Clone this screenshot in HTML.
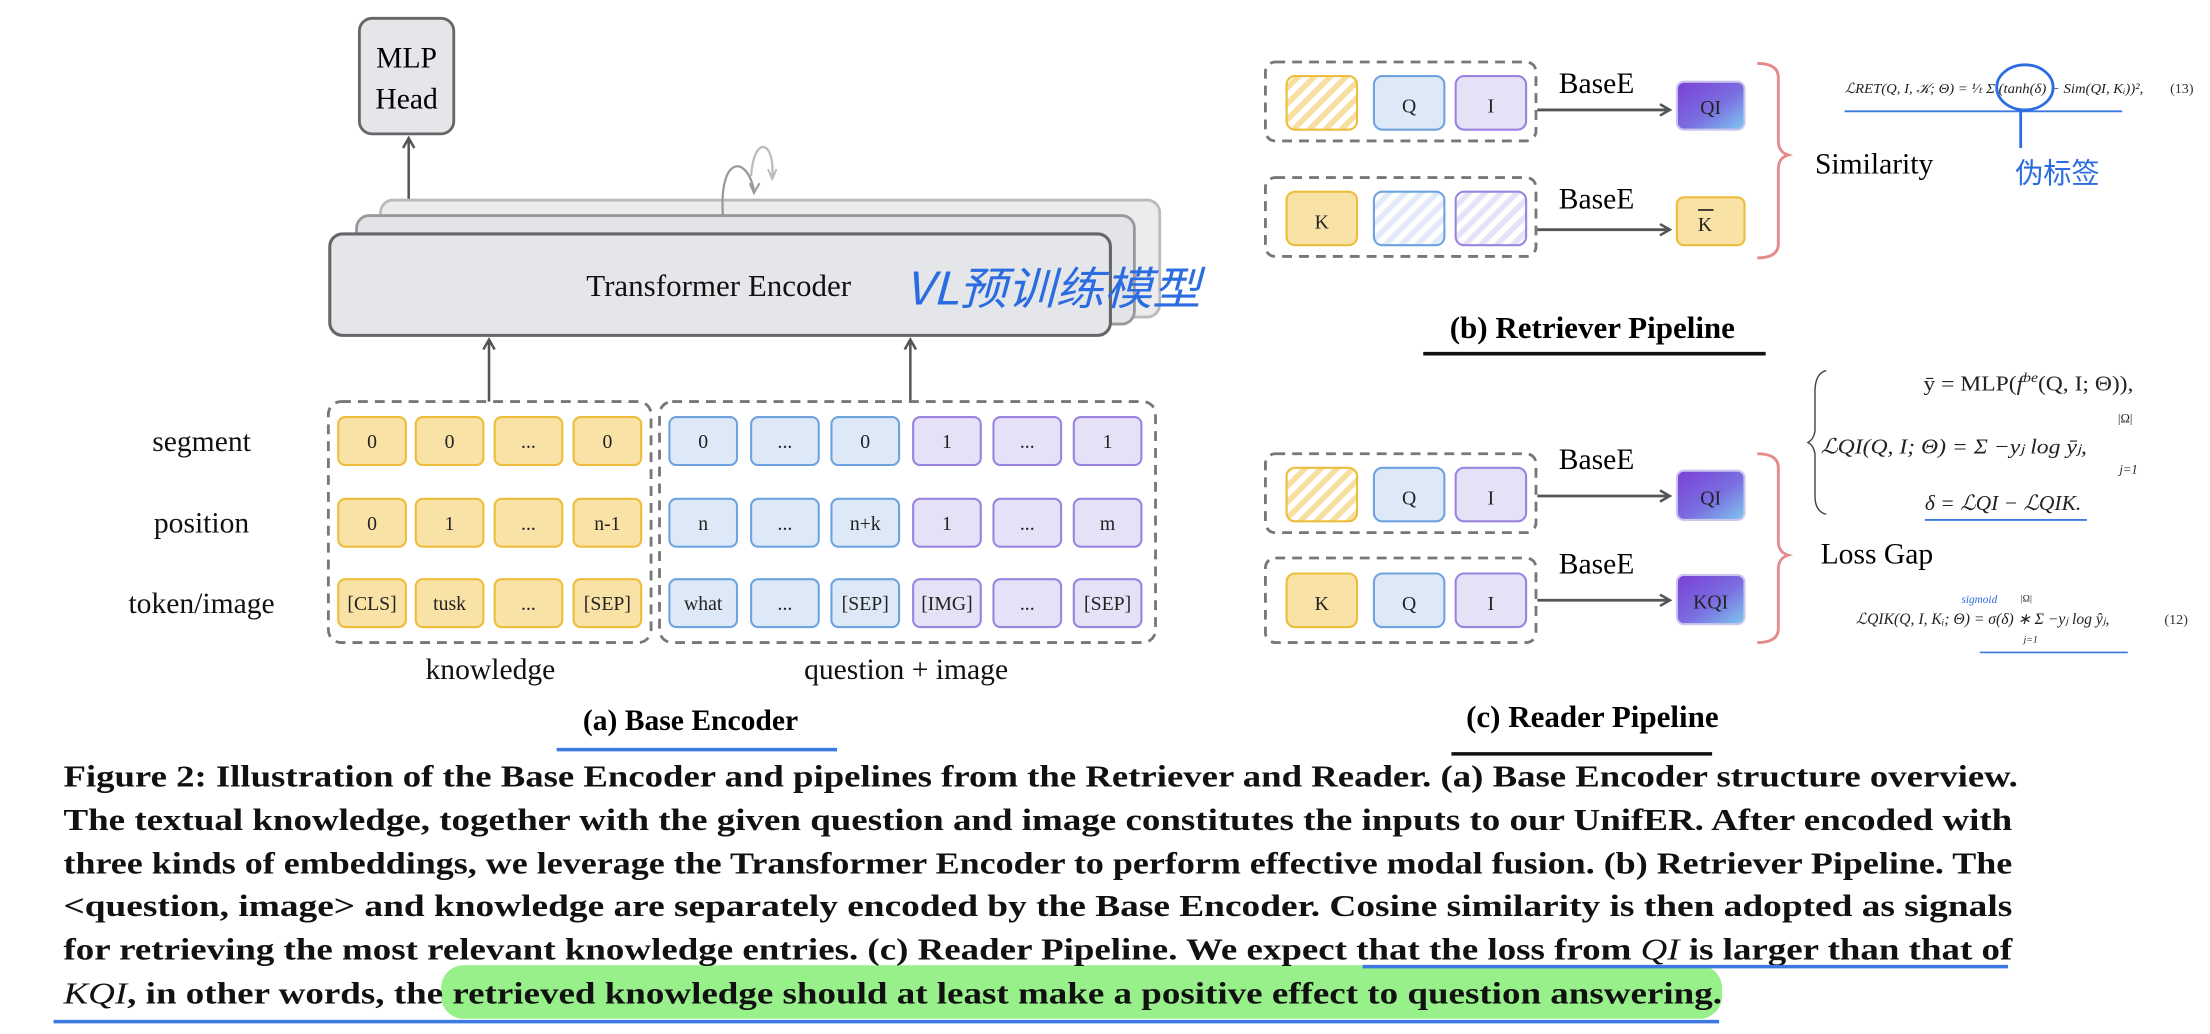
<!DOCTYPE html>
<html><head><meta charset="utf-8"><style>
html,body{margin:0;padding:0;background:#fff;}
svg{display:block;}
</style></head><body>
<svg width="2210" height="1034" viewBox="0 0 1568.3 733.8" xmlns="http://www.w3.org/2000/svg" font-family="Liberation Serif, serif">
<defs>
<pattern id="hy" width="8" height="8" patternUnits="userSpaceOnUse" patternTransform="rotate(45)"><rect width="8" height="8" fill="#fff"/><rect width="4" height="8" fill="#f7dfa0"/></pattern>
<pattern id="hb" width="8" height="8" patternUnits="userSpaceOnUse" patternTransform="rotate(45)"><rect width="8" height="8" fill="#fff"/><rect width="4" height="8" fill="#e2ecf8"/></pattern>
<pattern id="hp" width="8" height="8" patternUnits="userSpaceOnUse" patternTransform="rotate(45)"><rect width="8" height="8" fill="#fff"/><rect width="4" height="8" fill="#e6e3f7"/></pattern>
<linearGradient id="g" x1="0" y1="0" x2="1" y2="1"><stop offset="0" stop-color="#7b3fd6"/><stop offset="0.55" stop-color="#7a6ee0"/><stop offset="1" stop-color="#7ec8f0"/></linearGradient>
<marker id="ar" markerWidth="10" markerHeight="10" refX="8" refY="5" orient="auto" markerUnits="userSpaceOnUse"><path d="M1,1 L8,5 L1,9" fill="none" stroke="#555" stroke-width="1.8"/></marker>
</defs>
<style>
.y{fill:#f8e2a6;stroke:#edbd3c;stroke-width:1.5}
.b{fill:#dde9f7;stroke:#6fa3e0;stroke-width:1.5}
.p{fill:#e5e2f7;stroke:#9a84e0;stroke-width:1.5}
.d{fill:none;stroke:#777;stroke-width:2;stroke-dasharray:7,5}
.ct{font-size:14px;text-anchor:middle;fill:#222}
.lb{font-size:21px;fill:#111}
.cap{font-size:22px;font-weight:bold;fill:#111}
.f{fill:#222;font-style:italic}
</style>

<!-- (a) -->
<rect x="255" y="13" width="67" height="82" rx="9" fill="#e5e6ea" stroke="#666" stroke-width="2"/>
<text x="288.5" y="48" font-size="21" text-anchor="middle">MLP</text>
<text x="288.5" y="77" font-size="21" text-anchor="middle">Head</text>
<line x1="290" y1="142" x2="290" y2="98" stroke="#555" stroke-width="1.8" marker-end="url(#ar)"/>
<rect x="270" y="142" width="553" height="83" rx="9" fill="#ececee" stroke="#bbb" stroke-width="2"/>
<rect x="253" y="153" width="552" height="77" rx="9" fill="#e3e4e8" stroke="#999" stroke-width="2"/>
<rect x="234" y="166" width="554" height="72" rx="9" fill="#e5e6ea" stroke="#666" stroke-width="2.2"/>
<path d="M513,153 C510,110 530,110 535,135" fill="none" stroke="#999" stroke-width="1.6"/>
<path d="M532,130 L535,137 L539,130" fill="none" stroke="#999" stroke-width="1.4"/>
<path d="M533,125 C535,95 550,100 548,125" fill="none" stroke="#bbb" stroke-width="1.6"/>
<path d="M545,120 L548,127 L551,120" fill="none" stroke="#bbb" stroke-width="1.4"/>
<text x="510" y="210" font-size="22" text-anchor="middle" fill="#111">Transformer Encoder</text>
<text x="642" y="216" font-size="32" fill="#2b6de0" font-family="WenQuanYi Zen Hei, Noto Sans CJK SC, sans-serif" font-style="italic" textLength="210" lengthAdjust="spacingAndGlyphs">VL预训练模型</text>
<line x1="347" y1="285" x2="347" y2="241" stroke="#555" stroke-width="1.8" marker-end="url(#ar)"/>
<line x1="646" y1="285" x2="646" y2="241" stroke="#555" stroke-width="1.8" marker-end="url(#ar)"/>
<text class="lb" x="143" y="320" text-anchor="middle">segment</text>
<text class="lb" x="143" y="378" text-anchor="middle">position</text>
<text class="lb" x="143" y="435" text-anchor="middle">token/image</text>
<rect class="d" x="233" y="285" width="229" height="171" rx="9"/>
<rect class="d" x="468" y="285" width="352" height="171" rx="9"/>
<rect class="y" x="240" y="296" width="48" height="34" rx="5"/><text class="ct" x="264" y="318">0</text>
<rect class="y" x="295" y="296" width="48" height="34" rx="5"/><text class="ct" x="319" y="318">0</text>
<rect class="y" x="351" y="296" width="48" height="34" rx="5"/><text class="ct" x="375" y="318">...</text>
<rect class="y" x="407" y="296" width="48" height="34" rx="5"/><text class="ct" x="431" y="318">0</text>
<rect class="y" x="240" y="354" width="48" height="34" rx="5"/><text class="ct" x="264" y="376">0</text>
<rect class="y" x="295" y="354" width="48" height="34" rx="5"/><text class="ct" x="319" y="376">1</text>
<rect class="y" x="351" y="354" width="48" height="34" rx="5"/><text class="ct" x="375" y="376">...</text>
<rect class="y" x="407" y="354" width="48" height="34" rx="5"/><text class="ct" x="431" y="376">n-1</text>
<rect class="y" x="240" y="411" width="48" height="34" rx="5"/><text class="ct" x="264" y="433">[CLS]</text>
<rect class="y" x="295" y="411" width="48" height="34" rx="5"/><text class="ct" x="319" y="433">tusk</text>
<rect class="y" x="351" y="411" width="48" height="34" rx="5"/><text class="ct" x="375" y="433">...</text>
<rect class="y" x="407" y="411" width="48" height="34" rx="5"/><text class="ct" x="431" y="433">[SEP]</text>
<rect class="b" x="475" y="296" width="48" height="34" rx="5"/><text class="ct" x="499" y="318">0</text>
<rect class="b" x="533" y="296" width="48" height="34" rx="5"/><text class="ct" x="557" y="318">...</text>
<rect class="b" x="590" y="296" width="48" height="34" rx="5"/><text class="ct" x="614" y="318">0</text>
<rect class="p" x="648" y="296" width="48" height="34" rx="5"/><text class="ct" x="672" y="318">1</text>
<rect class="p" x="705" y="296" width="48" height="34" rx="5"/><text class="ct" x="729" y="318">...</text>
<rect class="p" x="762" y="296" width="48" height="34" rx="5"/><text class="ct" x="786" y="318">1</text>
<rect class="b" x="475" y="354" width="48" height="34" rx="5"/><text class="ct" x="499" y="376">n</text>
<rect class="b" x="533" y="354" width="48" height="34" rx="5"/><text class="ct" x="557" y="376">...</text>
<rect class="b" x="590" y="354" width="48" height="34" rx="5"/><text class="ct" x="614" y="376">n+k</text>
<rect class="p" x="648" y="354" width="48" height="34" rx="5"/><text class="ct" x="672" y="376">1</text>
<rect class="p" x="705" y="354" width="48" height="34" rx="5"/><text class="ct" x="729" y="376">...</text>
<rect class="p" x="762" y="354" width="48" height="34" rx="5"/><text class="ct" x="786" y="376">m</text>
<rect class="b" x="475" y="411" width="48" height="34" rx="5"/><text class="ct" x="499" y="433">what</text>
<rect class="b" x="533" y="411" width="48" height="34" rx="5"/><text class="ct" x="557" y="433">...</text>
<rect class="b" x="590" y="411" width="48" height="34" rx="5"/><text class="ct" x="614" y="433">[SEP]</text>
<rect class="p" x="648" y="411" width="48" height="34" rx="5"/><text class="ct" x="672" y="433">[IMG]</text>
<rect class="p" x="705" y="411" width="48" height="34" rx="5"/><text class="ct" x="729" y="433">...</text>
<rect class="p" x="762" y="411" width="48" height="34" rx="5"/><text class="ct" x="786" y="433">[SEP]</text>
<text class="lb" x="348" y="482" text-anchor="middle">knowledge</text>
<text class="lb" x="643" y="482" text-anchor="middle">question + image</text>
<text x="490" y="518" font-size="21" font-weight="bold" text-anchor="middle">(a) Base Encoder</text>
<line x1="395" y1="532" x2="594" y2="532" stroke="#3b78e0" stroke-width="2.5"/>

<!-- (b) -->
<rect class="d" x="898" y="44" width="192" height="56" rx="7"/>
<rect x="913" y="54" width="50" height="38" rx="6" fill="url(#hy)" stroke="#edbd3c" stroke-width="1.5"/>
<rect class="b" x="975" y="54" width="50" height="38" rx="6"/><text class="ct" font-size="17" x="1000" y="80">Q</text>
<rect class="p" x="1033" y="54" width="50" height="38" rx="6"/><text class="ct" font-size="17" x="1058" y="80">I</text>
<text x="1133" y="66" font-size="21" text-anchor="middle">BaseE</text>
<line x1="1091" y1="78" x2="1185" y2="78" stroke="#555" stroke-width="2" marker-end="url(#ar)"/>
<rect x="1190" y="58" width="48" height="34" rx="5" fill="url(#g)" stroke="#ccc6ee" stroke-width="1.5"/><text class="ct" font-size="17" x="1214" y="81">QI</text>

<rect class="d" x="898" y="126" width="192" height="56" rx="7"/>
<rect class="y" x="913" y="136" width="50" height="38" rx="6"/><text class="ct" font-size="17" x="938" y="162">K</text>
<rect x="975" y="136" width="50" height="38" rx="6" fill="url(#hb)" stroke="#6fa3e0" stroke-width="1.5"/>
<rect x="1033" y="136" width="50" height="38" rx="6" fill="url(#hp)" stroke="#9a84e0" stroke-width="1.5"/>
<text x="1133" y="148" font-size="21" text-anchor="middle">BaseE</text>
<line x1="1091" y1="163" x2="1185" y2="163" stroke="#555" stroke-width="2" marker-end="url(#ar)"/>
<rect class="y" x="1190" y="140" width="48" height="34" rx="5"/><text class="ct" font-size="17" x="1210" y="164">K</text>
<line x1="1205" y1="149" x2="1216" y2="149" stroke="#222" stroke-width="1.2"/>
<path d="M1247,45 Q1262,45 1262,55 L1262,100 Q1262,108 1269,110 Q1262,112 1262,120 L1262,173 Q1262,183 1247,183" fill="none" stroke="#e58a8a" stroke-width="2"/>
<text x="1288" y="123" font-size="21">Similarity</text>

<text class="f" x="1309" y="66" font-size="10" textLength="212" lengthAdjust="spacingAndGlyphs">ℒRET(Q, I, 𝒦; Θ) = ¹⁄ₜ Σ (tanh(δ) − Sim(QI, Kᵢ))²,</text>
<text x="1540" y="66" font-size="10" fill="#333">(13)</text>
<line x1="1309" y1="79" x2="1506" y2="79" stroke="#3b78e0" stroke-width="1.3"/>
<ellipse cx="1437" cy="62" rx="20" ry="16" fill="none" stroke="#2b6de0" stroke-width="2"/>
<line x1="1434" y1="78" x2="1434" y2="105" stroke="#2b6de0" stroke-width="2"/>
<text x="1430" y="130" font-size="20" fill="#2b6de0" font-family="WenQuanYi Zen Hei, Noto Sans CJK SC, sans-serif" textLength="60" lengthAdjust="spacingAndGlyphs">伪标签</text>

<text x="1130" y="240" font-size="22" font-weight="bold" text-anchor="middle">(b) Retriever Pipeline</text>
<line x1="1010" y1="251" x2="1253" y2="251" stroke="#111" stroke-width="2.5"/>

<!-- (c) formulas -->
<path d="M1296,263 Q1288,265 1288,278 L1288,306 Q1287,312 1283,314 Q1287,316 1288,322 L1288,352 Q1288,363 1296,365" fill="none" stroke="#444" stroke-width="1"/>
<text x="1365" y="277" font-size="15" fill="#222" textLength="149" lengthAdjust="spacingAndGlyphs">ȳ = MLP(<tspan font-style="italic">f</tspan><tspan font-size="10" dy="-6" font-style="italic">be</tspan><tspan dy="6">(Q, I; Θ)),</tspan></text>
<text x="1503" y="300" font-size="9" fill="#222">|Ω|</text>
<text class="f" x="1292" y="322" font-size="15" textLength="189" lengthAdjust="spacingAndGlyphs">ℒQI(Q, I; Θ) = Σ −yⱼ log ȳⱼ,</text>
<text x="1504" y="336" font-size="9" fill="#222" font-style="italic">j=1</text>
<text class="f" x="1366" y="362" font-size="15" textLength="111" lengthAdjust="spacingAndGlyphs">δ = ℒQI − ℒQIK.</text>
<line x1="1366" y1="369" x2="1481" y2="369" stroke="#3b78e0" stroke-width="1.3"/>

<rect class="d" x="898" y="322" width="192" height="56" rx="7"/>
<rect x="913" y="332" width="50" height="38" rx="6" fill="url(#hy)" stroke="#edbd3c" stroke-width="1.5"/>
<rect class="b" x="975" y="332" width="50" height="38" rx="6"/><text class="ct" font-size="17" x="1000" y="358">Q</text>
<rect class="p" x="1033" y="332" width="50" height="38" rx="6"/><text class="ct" font-size="17" x="1058" y="358">I</text>
<text x="1133" y="333" font-size="21" text-anchor="middle">BaseE</text>
<line x1="1091" y1="352" x2="1185" y2="352" stroke="#555" stroke-width="2" marker-end="url(#ar)"/>
<rect x="1190" y="334" width="48" height="35" rx="5" fill="url(#g)" stroke="#ccc6ee" stroke-width="1.5"/><text class="ct" font-size="17" x="1214" y="358">QI</text>

<rect class="d" x="898" y="396" width="192" height="60" rx="7"/>
<rect class="y" x="913" y="407" width="50" height="38" rx="6"/><text class="ct" font-size="17" x="938" y="433">K</text>
<rect class="b" x="975" y="407" width="50" height="38" rx="6"/><text class="ct" font-size="17" x="1000" y="433">Q</text>
<rect class="p" x="1033" y="407" width="50" height="38" rx="6"/><text class="ct" font-size="17" x="1058" y="433">I</text>
<text x="1133" y="407" font-size="21" text-anchor="middle">BaseE</text>
<line x1="1091" y1="426" x2="1185" y2="426" stroke="#555" stroke-width="2" marker-end="url(#ar)"/>
<rect x="1190" y="408" width="48" height="35" rx="5" fill="url(#g)" stroke="#ccc6ee" stroke-width="1.5"/><text class="ct" font-size="17" x="1214" y="432">KQI</text>
<path d="M1247,322 Q1262,322 1262,332 L1262,384 Q1262,392 1269,394 Q1262,396 1262,404 L1262,446 Q1262,456 1247,456" fill="none" stroke="#e58a8a" stroke-width="2"/>
<text x="1292" y="400" font-size="21">Loss Gap</text>
<text x="1392" y="428" font-size="8" fill="#2b6de0" font-style="italic">sigmoid</text>
<text x="1434" y="427" font-size="7" fill="#222">|Ω|</text>
<text class="f" x="1317" y="443" font-size="11" textLength="180" lengthAdjust="spacingAndGlyphs">ℒQIK(Q, I, Kᵢ; Θ) = σ(δ) ∗ Σ −yⱼ log ŷⱼ,</text>
<text x="1436" y="456" font-size="7" fill="#222" font-style="italic">j=1</text>
<text x="1536" y="443" font-size="10" fill="#333">(12)</text>
<line x1="1405" y1="463" x2="1510" y2="463" stroke="#3b78e0" stroke-width="1.2"/>

<text x="1130" y="516" font-size="22" font-weight="bold" text-anchor="middle">(c) Reader Pipeline</text>
<line x1="1030" y1="535" x2="1215" y2="535" stroke="#111" stroke-width="2.5"/>

<!-- caption -->
<rect x="313" y="685" width="909" height="38" rx="16" fill="#98f08a"/>
<text class="cap" x="45" y="558" textLength="1387" lengthAdjust="spacingAndGlyphs">Figure 2: Illustration of the Base Encoder and pipelines from the Retriever and Reader. (a) Base Encoder structure overview.</text>
<text class="cap" x="45" y="589" textLength="1383" lengthAdjust="spacingAndGlyphs">The textual knowledge, together with the given question and image constitutes the inputs to our UnifER. After encoded with</text>
<text class="cap" x="45" y="620" textLength="1383" lengthAdjust="spacingAndGlyphs">three kinds of embeddings, we leverage the Transformer Encoder to perform effective modal fusion. (b) Retriever Pipeline. The</text>
<text class="cap" x="45" y="650" textLength="1383" lengthAdjust="spacingAndGlyphs">&lt;question, image&gt; and knowledge are separately encoded by the Base Encoder. Cosine similarity is then adopted as signals</text>
<text class="cap" x="45" y="681" textLength="1383" lengthAdjust="spacingAndGlyphs">for retrieving the most relevant knowledge entries. (c) Reader Pipeline. We expect that the loss from <tspan font-style="italic" font-weight="normal">QI</tspan> is larger than that of</text>
<text class="cap" x="45" y="712" textLength="1177" lengthAdjust="spacingAndGlyphs"><tspan font-style="italic" font-weight="normal">KQI</tspan>, in other words, the retrieved knowledge should at least make a positive effect to question answering.</text>
<line x1="967" y1="686" x2="1425" y2="686" stroke="#3b78e0" stroke-width="2.5"/>
<line x1="38" y1="725" x2="1220" y2="725" stroke="#3b78e0" stroke-width="2.5"/>
</svg>
</body></html>
